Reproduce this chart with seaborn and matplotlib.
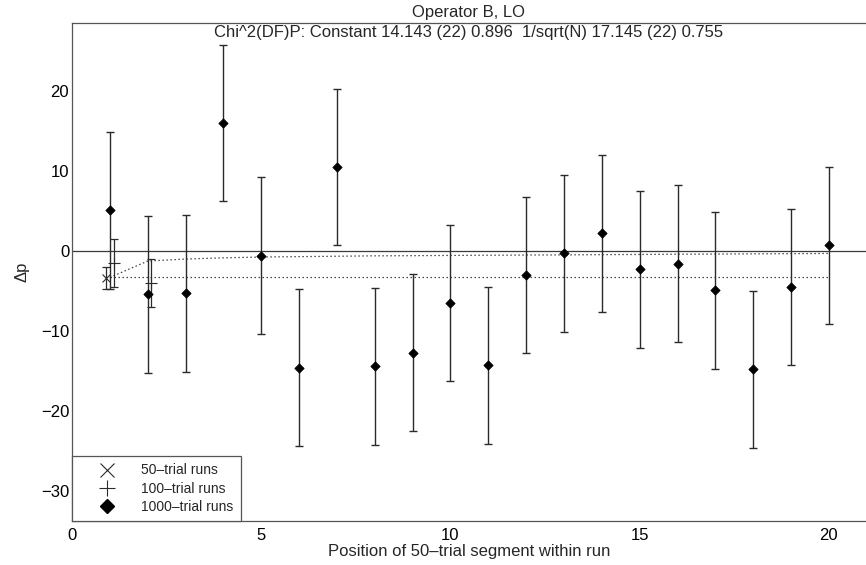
import numpy as np
import pandas as pd
import matplotlib
matplotlib.use("Agg")
import matplotlib.pyplot as plt
from matplotlib.lines import Line2D
import seaborn as sns

# --- data ---
pos_1000 = [1, 2, 3, 4, 5, 6, 7, 8, 9, 10, 11, 12, 13, 14, 15, 16, 17, 18, 19, 20]
dp_1000 = [5.1, -5.4, -5.3, 16.0, -0.6, -14.6, 10.5, -14.4, -12.7, -6.5,
           -14.3, -3.0, -0.3, 2.2, -2.3, -1.6, -4.9, -14.8, -4.5, 0.7]
err_1000 = [9.8, 9.8, 9.8, 9.8, 9.8, 9.8, 9.8, 9.8, 9.8, 9.8,
            9.8, 9.8, 9.8, 9.8, 9.8, 9.8, 9.8, 9.8, 9.8, 9.8]

pos_100 = [1, 2]
dp_100 = [-1.5, -4.0]
err_100 = [3.0, 2.95]

pos_50 = [1]
dp_50 = [-3.4]
err_50 = [1.35]

# model fits (dotted lines)
model_const = [-3.3] * 2
model_const_x = [1, 20]
model_sqrt = [-3.3, -1.25, -1.0, -0.85, -0.75, -0.7, -0.65, -0.6, -0.58, -0.55,
              -0.52, -0.5, -0.48, -0.45, -0.43, -0.4, -0.38, -0.35, -0.33, -0.3]

title = "Operator B, LO"
subtitle = "Chi^2(DF)P: Constant 14.143 (22) 0.896  1/sqrt(N) 17.145 (22) 0.755"

sns.set_theme(style="white")
plt.rcParams["font.family"] = ["Liberation Sans", "DejaVu Sans"]

ink = "#2a2a2a"
fs = 12
fig = plt.figure(figsize=(8.66, 5.65), dpi=100)
ax = fig.add_axes([72 / 866, 44.3 / 565, 794 / 866, 498.2 / 565])

# zero line + model curves
ax.axhline(0, color="#3a3a3a", lw=0.9, zorder=1)
df_sqrt = pd.DataFrame({"x": pos_1000, "y": model_sqrt})
df_const = pd.DataFrame({"x": model_const_x, "y": model_const})
sns.lineplot(data=df_sqrt, x="x", y="y", ax=ax, color="#444444", lw=0.9,
             zorder=2).lines[-1].set_dashes((1.2, 2.0))
sns.lineplot(data=df_const, x="x", y="y", ax=ax, color="#444444", lw=0.9,
             zorder=2).lines[-1].set_dashes((1.2, 2.0))

# error bars
ax.errorbar(pos_1000, dp_1000, yerr=err_1000, fmt="none", ecolor=ink,
            elinewidth=1.0, capsize=3, capthick=1.0, zorder=3)
x100 = np.array(pos_100) + 0.1
ax.errorbar(x100, dp_100, yerr=err_100, fmt="none", ecolor=ink,
            elinewidth=0.9, capsize=3, capthick=0.9, zorder=3)
x50 = np.array(pos_50) - 0.1
ax.errorbar(x50, dp_50, yerr=err_50, fmt="none", ecolor=ink,
            elinewidth=0.9, capsize=3, capthick=0.9, zorder=3)

# markers
sns.scatterplot(x=pos_1000, y=dp_1000, marker="D", s=22, color="black",
                edgecolor="black", linewidth=0.6, ax=ax, zorder=4)
ax.plot(x100, dp_100, ls="none", marker="+", ms=8, mew=0.8, color=ink, zorder=4)
ax.plot(x50, dp_50, ls="none", marker="x", ms=6, mew=0.8, color=ink, zorder=4)

ax.set_xlim(0, 20.98)
ax.set_ylim(-33.7, 28.56)
ax.set_xticks([0, 5, 10, 15, 20])
ax.set_yticks([-30, -20, -10, 0, 10, 20])
ax.tick_params(direction="in", length=6, width=0.8, color="#444444",
               labelsize=fs, labelcolor="black")
ax.tick_params(axis="x", pad=5)
ax.tick_params(axis="y", pad=2)
for side in ["left", "bottom", "top"]:
    ax.spines[side].set_color("#555555")
    ax.spines[side].set_linewidth(0.9)
ax.spines["right"].set_visible(False)

ax.set_xlabel("Position of 50\u2013trial segment within run", fontsize=fs, labelpad=1)
ax.set_ylabel("\u0394p", fontsize=fs)
ax.yaxis.set_label_coords(-43 / 794, 0.5)
ax.set_title(title, fontsize=fs, pad=4)
ax.text(0.5, 1 - 9.5 / 498, subtitle, transform=ax.transAxes,
        ha="center", va="center", fontsize=fs)

handles = [
    Line2D([], [], ls="none", marker="x", ms=10, mew=0.8, color=ink),
    Line2D([], [], ls="none", marker="+", ms=12, mew=0.8, color=ink),
    Line2D([], [], ls="none", marker="D", ms=7, color="black"),
]
labels = ["50\u2013trial runs", "100\u2013trial runs", "1000\u2013trial runs"]
leg = ax.legend(handles, labels, loc="lower left", bbox_to_anchor=(0, 0),
                borderaxespad=0, fontsize=10, frameon=True, fancybox=False,
                framealpha=1, edgecolor="#555555", handlelength=4,
                handletextpad=0.5, borderpad=0.5, labelspacing=0.3)
leg.get_frame().set_linewidth(0.9)

fig.savefig("out.png", dpi=100)
